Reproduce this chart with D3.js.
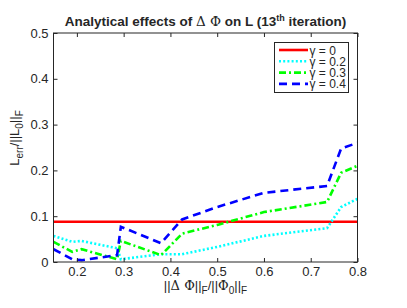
<!DOCTYPE html>
<html>
<head>
<meta charset="utf-8">
<script src="https://cdn.jsdelivr.net/npm/d3@7"></script>
<style>
  body { margin: 0; background: #fff; }
  text { font-family: "Liberation Sans", Arial, sans-serif; fill: #262626; }
  .sym { font-family: "DejaVu Serif", "Liberation Serif", serif; }
</style>
</head>
<body>
<div id="chart"></div>
<script>
var width = 407;
var height = 308;

// shared x positions of the samples
var xVals = [0.15, 0.19, 0.21, 0.286, 0.294, 0.38, 0.425, 0.5, 0.6, 0.735, 0.765, 0.8];

var gamma0 = [0.088, 0.088, 0.088, 0.088, 0.088, 0.088, 0.088, 0.088, 0.088, 0.088, 0.088, 0.088];
var gamma02 = [0.057, 0.044, 0.046, 0.030, 0.006, 0.017, 0.017, 0.033, 0.057, 0.074, 0.120, 0.138];
var gamma03 = [0.044, 0.022, 0.028, 0.006, 0.046, 0.015, 0.062, 0.081, 0.109, 0.131, 0.195, 0.210];
var gamma04 = [0.028, 0.006, 0.004, 0.015, 0.077, 0.041, 0.093, 0.120, 0.151, 0.166, 0.248, 0.260];

var legendLabels = ["0", "0.2", "0.3", "0.4"];
var xTicks = [0.2, 0.3, 0.4, 0.5, 0.6, 0.7, 0.8];
var yTicks = [0, 0.1, 0.2, 0.3, 0.4, 0.5];

var series = [
  { values: gamma0, color: "#ff0000", dash: null },
  { values: gamma02, color: "#00ffff", dash: "2,2.2" },
  { values: gamma03, color: "#00ff00", dash: "7,3,2,3" },
  { values: gamma04, color: "#0000ff", dash: "8,5" }
];

// plot box (window.top is reserved, so prefixed names)
var pLeft = 53.5, pRight = 357.5, pTop = 33, pBottom = 262;

var svg = d3.select("#chart").append("svg")
  .attr("width", width)
  .attr("height", height);

var xScale = d3.scaleLinear().domain([0.15, 0.8]).range([pLeft, pRight]);
var yScale = d3.scaleLinear().domain([0, 0.5]).range([pBottom, pTop]);

svg.append("clipPath").attr("id", "clip")
  .append("rect").attr("x", pLeft).attr("y", pTop)
  .attr("width", pRight - pLeft).attr("height", pBottom - pTop);

var line = d3.line()
  .x(function(d) { return xScale(d[0]); })
  .y(function(d) { return yScale(d[1]); });

series.forEach(function(s) {
  var pts = xVals.map(function(x, k) { return [x, s.values[k]]; });
  svg.append("path")
    .attr("clip-path", "url(#clip)")
    .attr("d", line(pts))
    .attr("fill", "none")
    .attr("stroke", s.color)
    .attr("stroke-width", 2.6)
    .attr("stroke-dasharray", s.dash);
});

// axes with inward ticks
function styleAxis(g) {
  g.selectAll(".domain").remove();
  g.selectAll(".tick line").attr("stroke", "#262626");
  g.selectAll("text").attr("font-size", 13).attr("fill", "#262626")
    .attr("font-family", "Liberation Sans, Arial, sans-serif");
}

svg.append("g").attr("transform", "translate(0," + pBottom + ")")
  .call(d3.axisBottom(xScale).tickValues(xTicks).tickFormat(d3.format(".1f"))
    .tickSizeInner(-4).tickSizeOuter(0).tickPadding(5))
  .call(styleAxis);

svg.append("g").attr("transform", "translate(0," + pTop + ")")
  .call(d3.axisTop(xScale).tickValues(xTicks).tickFormat("")
    .tickSizeInner(-4).tickSizeOuter(0))
  .call(styleAxis);

svg.append("g").attr("transform", "translate(" + pLeft + ",0)")
  .call(d3.axisLeft(yScale).tickValues(yTicks)
    .tickFormat(function(d) { return d === 0 ? "0" : d3.format(".1f")(d); })
    .tickSizeInner(-4).tickSizeOuter(0).tickPadding(5))
  .call(styleAxis);

svg.append("g").attr("transform", "translate(" + pRight + ",0)")
  .call(d3.axisRight(yScale).tickValues(yTicks).tickFormat("")
    .tickSizeInner(-4).tickSizeOuter(0))
  .call(styleAxis);

svg.append("rect")
  .attr("x", pLeft).attr("y", pTop)
  .attr("width", pRight - pLeft).attr("height", pBottom - pTop)
  .attr("fill", "none").attr("stroke", "#262626").attr("stroke-width", 1);

// title
var title = svg.append("text")
  .attr("x", (pLeft + pRight) / 2).attr("y", 26)
  .attr("text-anchor", "middle")
  .attr("font-size", 13.5).attr("font-weight", "bold");
title.append("tspan").text("Analytical effects of ");
title.append("tspan").attr("class", "sym").attr("font-weight", "normal").text("\u0394 \u03A6");
title.append("tspan").text(" on L (13");
title.append("tspan").attr("font-size", 9).attr("dy", -5).text("th");
title.append("tspan").attr("dy", 5).text(" iteration)");

// x label
var xl = svg.append("text")
  .attr("x", (pLeft + pRight) / 2).attr("y", 290)
  .attr("text-anchor", "middle").attr("font-size", 13);
xl.append("tspan").text("||");
xl.append("tspan").attr("class", "sym").text("\u0394 \u03A6");
xl.append("tspan").text("||");
xl.append("tspan").attr("font-size", 10).attr("dy", 4).text("F");
xl.append("tspan").attr("dy", -4).text("/||");
xl.append("tspan").attr("class", "sym").text("\u03A6");
xl.append("tspan").attr("font-size", 10).attr("dy", 4).text("0");
xl.append("tspan").attr("dy", -4).text("||");
xl.append("tspan").attr("font-size", 10).attr("dy", 4).text("F");

// y label
var yl = svg.append("text")
  .attr("transform", "translate(19,138) rotate(-90)")
  .attr("text-anchor", "middle").attr("font-size", 13);
yl.append("tspan").text("L");
yl.append("tspan").attr("font-size", 10).attr("dy", 4).text("err");
yl.append("tspan").attr("dy", -4).text("/||L");
yl.append("tspan").attr("font-size", 10).attr("dy", 4).text("0");
yl.append("tspan").attr("dy", -4).text("||");
yl.append("tspan").attr("font-size", 10).attr("dy", 4).text("F");

// legend
var lg = svg.append("g");
lg.append("rect")
  .attr("x", 274.5).attr("y", 42.5).attr("width", 74).attr("height", 50)
  .attr("fill", "#fff").attr("stroke", "#262626").attr("stroke-width", 1);

series.forEach(function(s, k) {
  var yy = 50 + k * 11.3;
  lg.append("line")
    .attr("x1", 279).attr("x2", 308).attr("y1", yy).attr("y2", yy)
    .attr("stroke", s.color).attr("stroke-width", 2.6)
    .attr("stroke-dasharray", s.dash);
  lg.append("text").attr("x", 309.5).attr("y", yy + 4.5).attr("font-size", 12)
    .text("\u03B3 = " + legendLabels[k]);
});
</script>
</body>
</html>
